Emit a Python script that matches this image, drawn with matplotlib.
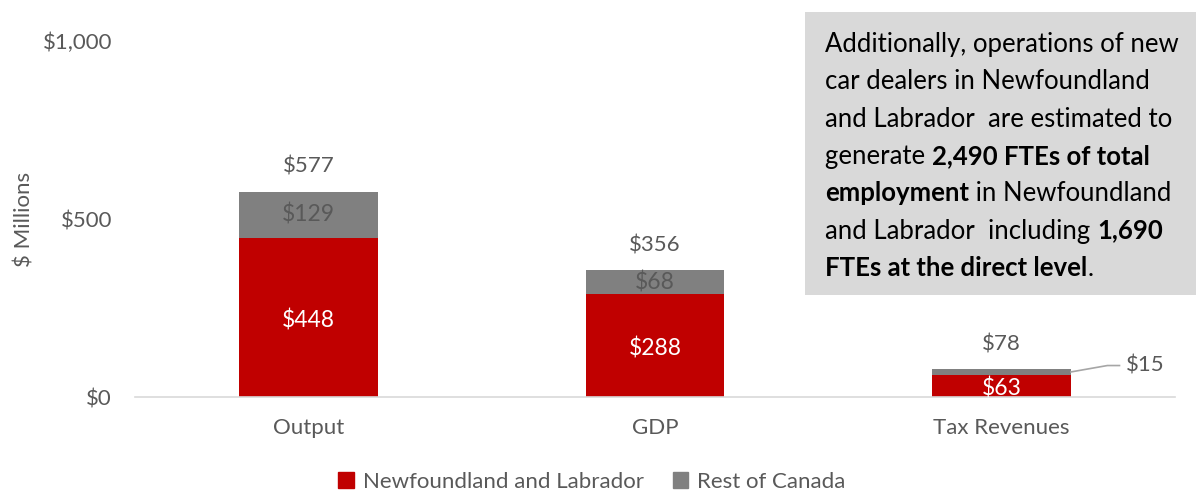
import matplotlib
matplotlib.use("Agg")
import matplotlib.pyplot as plt
from matplotlib.patches import Patch

plt.rcParams['font.family'] = ['Lato', 'DejaVu Sans']

categories = ['Output', 'GDP', 'Tax Revenues']
nl_values = [448, 288, 63]
roc_values = [129, 68, 15]
totals = [577, 356, 78]
y_ticks = [0, 500, 1000]
y_tick_labels = ['$0', '$500', '$1,000']

note_lines = [
    [("Additionally, operations of new", False)],
    [("car dealers in Newfoundland", False)],
    [("and Labrador  are estimated to", False)],
    [("generate ", False), ("2,490 FTEs of total", True)],
    [("employment", True), (" in Newfoundland", False)],
    [("and Labrador  including ", False), ("1,690", True)],
    [("FTEs at the direct level", True), (".", False)],
]

RED = '#C00000'
GREY = '#808080'
TXT = '#595959'
FS = 16

fig = plt.figure(figsize=(11.96, 4.92), dpi=100)
ax = fig.add_axes([0.1129, 0.193, 0.8695, 0.7237])

x = range(len(categories))
ax.bar(x, nl_values, width=0.4, color=RED, label='Newfoundland and Labrador')
ax.bar(x, roc_values, width=0.4, bottom=nl_values, color=GREY, label='Rest of Canada')

ax.set_xlim(-0.5, 2.5)
ax.set_ylim(0, 1000)
ax.set_yticks(y_ticks)
ax.set_yticklabels(y_tick_labels)
ax.set_xticks(list(x))
ax.set_xticklabels(categories)
ax.tick_params(length=0, labelsize=FS, labelcolor=TXT)
ax.tick_params(axis='y', pad=16.5)
ax.tick_params(axis='x', pad=15)
for s in ['top', 'right', 'left']:
    ax.spines[s].set_visible(False)
ax.spines['bottom'].set_color('#D9D9D9')
ax.spines['bottom'].set_linewidth(1.2)
ax.set_ylabel('$ Millions', fontsize=FS, color=TXT)
ax.yaxis.set_label_coords(-0.097, 0.5)

for i in x:
    ax.text(i, nl_values[i] / 2 - 8, f'${nl_values[i]}', ha='center', va='center',
            color='white', fontsize=FS + 0.5)
    ax.text(i, totals[i] + 70, f'${totals[i]}', ha='center', va='center',
            color=TXT, fontsize=FS)
    if roc_values[i] > 40:
        ax.text(i, nl_values[i] + roc_values[i] / 2, f'${roc_values[i]}',
                ha='center', va='center', color=TXT, fontsize=FS + 0.5)

# small segment: label outside with leader line
i = 2
y_mid = nl_values[i] + roc_values[i] / 2
ax.plot([i + 0.2, i + 0.305, i + 0.34], [y_mid, y_mid + 18, y_mid + 18],
        color='#A6A6A6', lw=1.2, clip_on=False)
ax.text(i + 0.36, y_mid + 18, f'${roc_values[i]}', ha='left', va='center',
        color=TXT, fontsize=FS)

# note box
fig.patches.append(plt.Rectangle((805 / 1196, 1 - 295 / 492), 391 / 1196, 283 / 492,
                                 transform=fig.transFigure, facecolor='#D9D9D9',
                                 edgecolor='none'))
line_h = 37.3
y0 = 45
r = fig.canvas.get_renderer()
for k, segs in enumerate(note_lines):
    xpos = 825 / 1196
    ypos = 1 - (y0 + k * line_h + 7) / 492
    for txt, bold in segs:
        t = fig.text(xpos, ypos, txt, fontsize=18.5, color='black',
                     fontweight='bold' if bold else 'normal',
                     va='baseline', ha='left')
        xpos = t.get_window_extent(r).x1 / fig.bbox.width

ax.legend(handles=[Patch(color=RED, label='Newfoundland and Labrador'),
                   Patch(color=GREY, label='Rest of Canada')],
          loc='center', bbox_to_anchor=(592 / 1196, 1 - 482 / 492),
          bbox_transform=fig.transFigure, ncol=2, frameon=False,
          fontsize=FS, labelcolor=TXT, handlelength=0.7, handleheight=0.7,
          handletextpad=0.4, columnspacing=1.3)

fig.savefig('out.png', dpi=100)
